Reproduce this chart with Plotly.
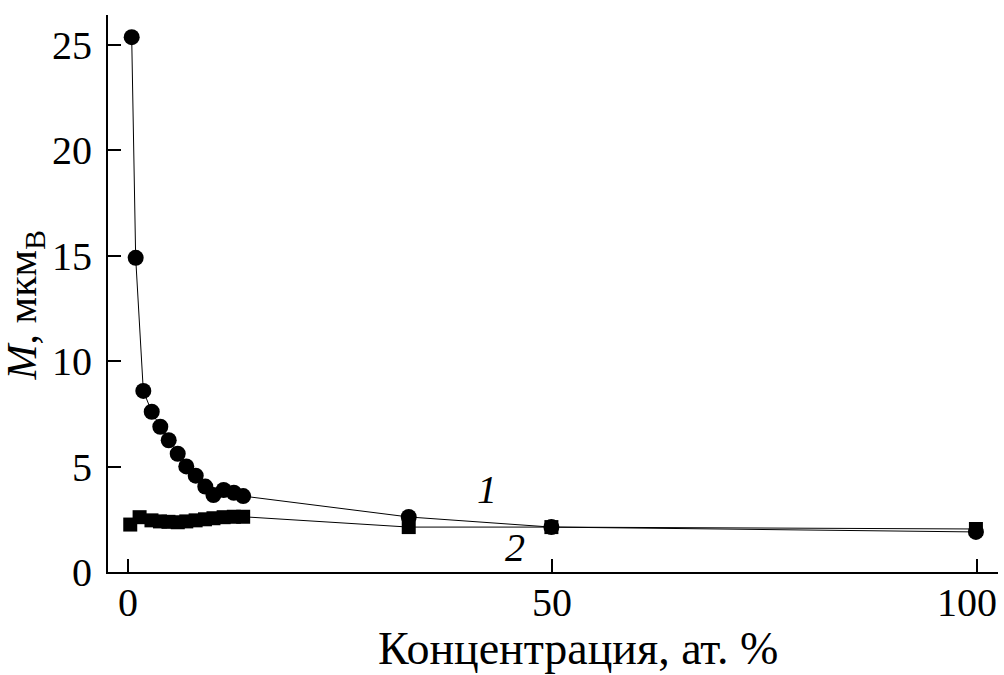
import plotly.graph_objects as go

# Series 1 (circles)
x1 = [0.47, 0.94, 1.84, 2.83, 3.84, 4.83, 5.89, 6.90, 8.01, 9.14, 10.1, 11.3, 12.5, 13.6, 33.1, 49.9, 99.9]
y1 = [25.37, 14.9, 8.59, 7.60, 6.89, 6.25, 5.61, 5.01, 4.57, 4.05, 3.65, 3.89, 3.76, 3.60, 2.61, 2.13, 1.90]

# Series 2 (squares)
x2 = [0.3, 1.4, 2.8, 3.8, 4.8, 5.9, 6.9, 8.0, 9.1, 10.1, 11.3, 12.5, 13.6, 33.1, 49.9, 99.9]
y2 = [2.25, 2.60, 2.45, 2.40, 2.38, 2.36, 2.40, 2.45, 2.50, 2.55, 2.60, 2.62, 2.62, 2.13, 2.13, 2.04]

x_ticks = [0, 50, 100]
x_ticklabels = ["0", "50", "100"]
y_ticks = [0, 5, 10, 15, 20, 25]

FONT = "Liberation Serif, Times New Roman, serif"

fig = go.Figure()
fig.add_trace(go.Scatter(
    x=x2, y=y2, mode="lines+markers",
    line=dict(color="black", width=1),
    marker=dict(symbol="square", size=14, color="black"),
    showlegend=False, cliponaxis=False))
fig.add_trace(go.Scatter(
    x=x1, y=y1, mode="lines+markers",
    line=dict(color="black", width=1),
    marker=dict(symbol="circle", size=16, color="black"),
    showlegend=False, cliponaxis=False))

# series labels
fig.add_annotation(x=42.3, y=3.89, text="<i>1</i>", showarrow=False,
                   font=dict(family=FONT, size=40, color="black"))
fig.add_annotation(x=45.6, y=1.14, text="<i>2</i>", showarrow=False,
                   font=dict(family=FONT, size=40, color="black"))

# x tick labels (drawn as annotations so "100" is not clipped at the right edge)
for v, t in zip(x_ticks, x_ticklabels):
    fig.add_annotation(x=v, y=0, xref="x", yref="y", text=t, showarrow=False,
                       yanchor="middle", yshift=-30, xshift=(-10 if v == 100 else 0),
                       font=dict(family=FONT, size=40, color="black"))

# axis titles
fig.add_annotation(x=0.528, y=0, xref="paper", yref="y", text="Концентрация, ат. %",
                   showarrow=False, yanchor="middle", yshift=-76,
                   font=dict(family=FONT, size=46, color="black"))
fig.add_annotation(x=-0.093, y=0.479, xref="paper", yref="paper",
                   text="<i>M</i>, мкм<sub>В</sub>", textangle=-90,
                   showarrow=False, xanchor="center", yanchor="middle",
                   font=dict(family=FONT, size=42, color="black"))

fig.update_layout(
    width=1004, height=675,
    margin=dict(l=108, r=6, t=15, b=103, autoexpand=False),
    paper_bgcolor="white", plot_bgcolor="white",
    font=dict(family=FONT, size=40, color="black"),
    xaxis=dict(
        range=[-2.32, 102.5], tickvals=x_ticks, ticks="inside", ticklen=13,
        tickwidth=2, tickcolor="black", showline=True, linecolor="black",
        linewidth=2, showgrid=False, zeroline=False, showticklabels=False,
        automargin=False,
    ),
    yaxis=dict(
        range=[0, 26.42], tickvals=y_ticks, ticks="inside", ticklen=13,
        tickwidth=2, tickcolor="black", showline=True, linecolor="black",
        linewidth=2, showgrid=False, zeroline=False, automargin=False,
        tickfont=dict(family=FONT, size=40), ticklabelstandoff=6,
    ),
)

fig.write_html("out.html", config={"displayModeBar": False},
               post_script="document.body.style.margin='0';")
